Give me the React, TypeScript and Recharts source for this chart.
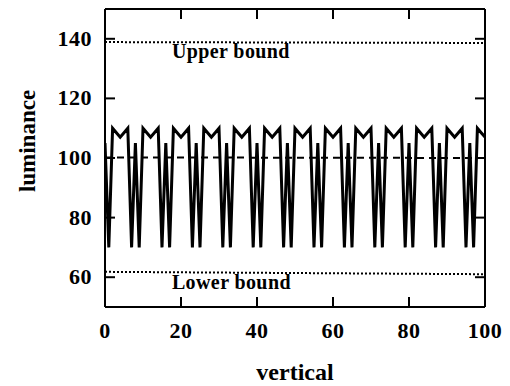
import React from 'react';
import { LineChart, Line, XAxis, YAxis, ReferenceDot, Label } from 'recharts';

// luminance profile sampled at each vertical position 0..100
const luminance = [
  105, 70, 110, 108.5, 107, 108.5, 110, 70,
  105, 70, 110, 108.5, 107, 108.5, 110, 70,
  105, 70, 110, 108.5, 107, 108.5, 110, 70,
  105, 70, 110, 108.5, 107, 108.5, 110, 70,
  105, 70, 110, 108.5, 107, 108.5, 110, 70,
  105, 70, 110, 108.5, 107, 108.5, 110, 70,
  105, 70, 110, 108.5, 107, 108.5, 110, 70,
  105, 70, 110, 108.5, 107, 108.5, 110, 70,
  105, 70, 110, 108.5, 107, 108.5, 110, 70,
  105, 70, 110, 108.5, 107, 108.5, 110, 70,
  105, 70, 110, 108.5, 107, 108.5, 110, 70,
  105, 70, 110, 108.5, 107, 108.5, 110, 70,
  105, 70, 110, 108.5, 107,
];
const boundX = [0, 100];
const upperBound = [138.9, 138.6];
const lowerBound = [61.8, 61.0];
const meanLevel = [100.2, 100.0];
const xTicks = [0, 20, 40, 60, 80, 100];
const innerXTicks = [20, 40, 60, 80];
const yTicks = [60, 80, 100, 120, 140];
const upperLabel = 'Upper bound';
const lowerLabel = 'Lower bound';
const xTitle = 'vertical';
const yTitle = 'luminance';

const signalData = luminance.map((v, i) => ({ x: i, y: v }));
const upperData = boundX.map((x, i) => ({ x, y: upperBound[i] }));
const lowerData = boundX.map((x, i) => ({ x, y: lowerBound[i] }));
const meanData = boundX.map((x, i) => ({ x, y: meanLevel[i] }));

const FONT = '"Liberation Serif", "Times New Roman", serif';
const TICK = 10;
const TC = '#000';
const TW = 2;

const BottomTick = (props: any) => {
  const { x, y, payload } = props;
  return (
    <g>
      <line x1={x} x2={x} y1={y} y2={y - TICK} stroke={TC} strokeWidth={TW} />
      <text x={x} y={y + 30.5} textAnchor="middle" fontFamily={FONT} fontWeight="bold" fontSize={22} letterSpacing={0.5} fill="#000">
        {payload.value}
      </text>
    </g>
  );
};

const TopTick = (props: any) => {
  const { x, y } = props;
  return <g><line x1={x} x2={x} y1={y} y2={y + TICK} stroke={TC} strokeWidth={TW} /></g>;
};

const LeftTick = (props: any) => {
  const { x, y, payload } = props;
  return (
    <g>
      <line x1={x + 13} x2={x + 13 + TICK} y1={y} y2={y} stroke={TC} strokeWidth={TW} />
      <text x={x} y={y + 7} textAnchor="end" fontFamily={FONT} fontWeight="bold" fontSize={22} letterSpacing={0.5} fill="#000">
        {payload.value}
      </text>
    </g>
  );
};

const RightTick = (props: any) => {
  const { x, y } = props;
  return <g><line x1={x - TICK} x2={x} y1={y} y2={y} stroke={TC} strokeWidth={TW} /></g>;
};

const XTitle = (props: any) => {
  const vb = props.viewBox;
  return (
    <text x={vb.x + vb.width / 2} y={vb.y + 73} textAnchor="middle" fontFamily={FONT} fontWeight="bold" fontSize={24} fill="#000">
      {xTitle}
    </text>
  );
};

const YTitle = (props: any) => {
  const vb = props.viewBox;
  return (
    <text transform={`translate(${vb.x + 35}, ${vb.y + 132}) rotate(-90)`} textAnchor="middle" fontFamily={FONT} fontWeight="bold" fontSize={23} fill="#000">
      {yTitle}
    </text>
  );
};

const makeBoundLabel = (text: string) => (props: any) => {
  const vb = props.viewBox;
  return (
    <text x={vb.x} y={vb.y} textAnchor="start" fontFamily={FONT} fontWeight="bold" fontSize={20} letterSpacing={0.4} fill="#000">
      {text}
    </text>
  );
};

export default function App() {
  return (
    <div style={{ position: 'absolute', left: 0, top: 0, background: '#fff' }}>
      <LineChart width={510} height={386} margin={{ top: 8, right: 24, bottom: 0, left: 0 }}>
        <XAxis xAxisId="b" dataKey="x" type="number" domain={[0, 100]} ticks={xTicks} interval={0}
          orientation="bottom" height={79} tickSize={0} tickMargin={0} tickLine={false}
          axisLine={{ stroke: '#000', strokeWidth: 2 }} tick={BottomTick} allowDataOverflow>
          <Label content={XTitle} />
        </XAxis>
        <XAxis xAxisId="t" dataKey="x" type="number" domain={[0, 100]} ticks={innerXTicks} interval={0}
          orientation="top" height={1} tickSize={0} tickMargin={0} tickLine={false}
          axisLine={{ stroke: '#000', strokeWidth: 2 }} tick={TopTick} allowDataOverflow />
        <YAxis yAxisId="l" type="number" domain={[50, 150]} ticks={yTicks} interval={0}
          orientation="left" width={105} tickSize={0} tickMargin={13} tickLine={false}
          axisLine={{ stroke: '#000', strokeWidth: 2 }} tick={LeftTick} allowDataOverflow>
          <Label content={YTitle} />
        </YAxis>
        <YAxis yAxisId="r" type="number" domain={[50, 150]} ticks={yTicks} interval={0}
          orientation="right" width={1} tickSize={0} tickMargin={0} tickLine={false}
          axisLine={{ stroke: '#000', strokeWidth: 2 }} tick={RightTick} allowDataOverflow />
        <Line xAxisId="b" yAxisId="l" data={meanData} dataKey="y" stroke="#000" strokeWidth={2}
          strokeDasharray="7 5" dot={false} isAnimationActive={false} />
        <Line xAxisId="t" yAxisId="r" data={upperData} dataKey="y" stroke="#000" strokeWidth={2}
          strokeDasharray="2 2" dot={false} isAnimationActive={false} />
        <Line xAxisId="t" yAxisId="r" data={lowerData} dataKey="y" stroke="#000" strokeWidth={2}
          strokeDasharray="2 2" dot={false} isAnimationActive={false} />
        <Line xAxisId="b" yAxisId="l" data={signalData} dataKey="y" stroke="#000" strokeWidth={3}
          dot={false} isAnimationActive={false} />
        <ReferenceDot xAxisId="b" yAxisId="l" x={17.6} y={133.6} r={0} fill="none" stroke="none"
          label={makeBoundLabel(upperLabel)} />
        <ReferenceDot xAxisId="b" yAxisId="l" x={17.6} y={56} r={0} fill="none" stroke="none"
          label={makeBoundLabel(lowerLabel)} />
      </LineChart>
    </div>
  );
}
